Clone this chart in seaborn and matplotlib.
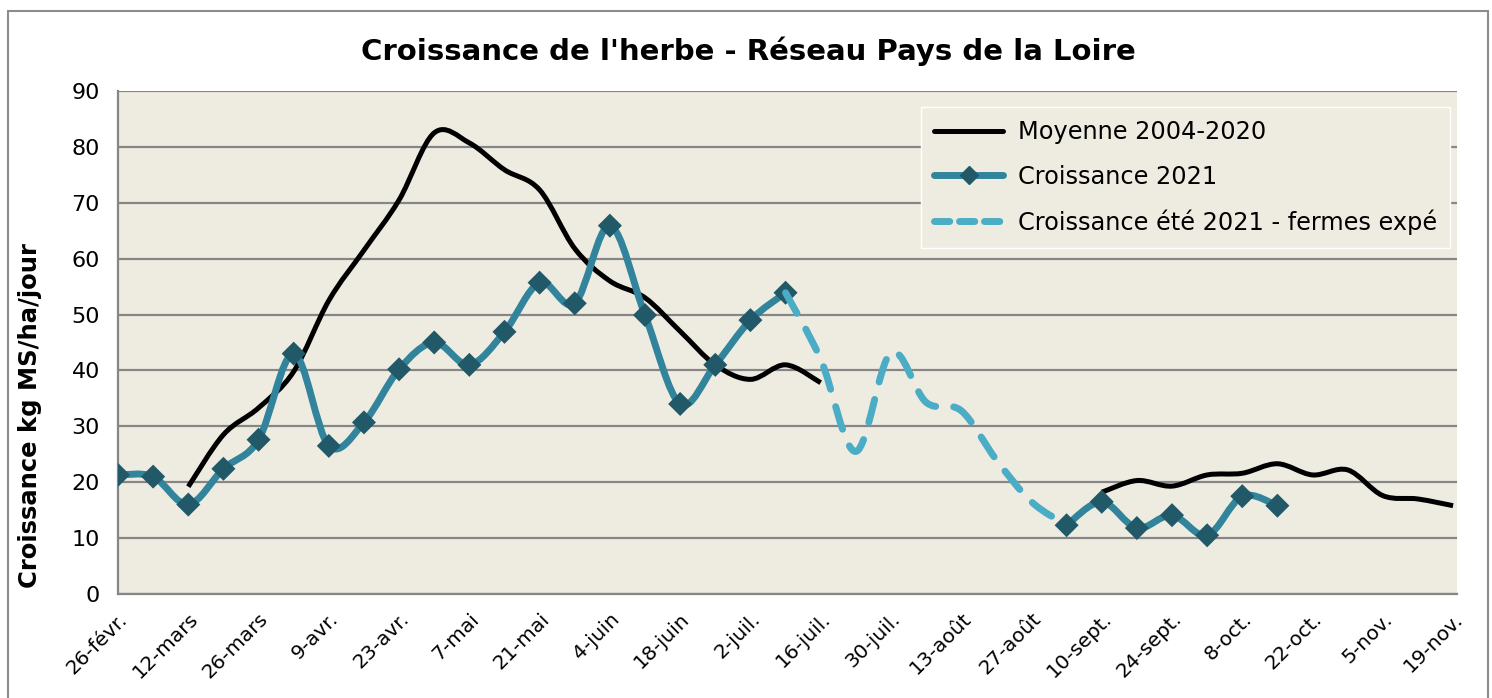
import numpy as np
import pandas as pd
import seaborn as sns
import matplotlib.pyplot as plt
from matplotlib.path import Path
from matplotlib.patches import PathPatch, Rectangle
from matplotlib.lines import Line2D

# semaines du 26-févr. au 19-nov. (index 0..38)
tick_labels = ['26-févr.', '12-mars', '26-mars', '9-avr.', '23-avr.', '7-mai', '21-mai',
               '4-juin', '18-juin', '2-juil.', '16-juil.', '30-juil.', '13-août', '27-août',
               '10-sept.', '24-sept.', '8-oct.', '22-oct.', '5-nov.', '19-nov.']
nan = np.nan
semaine = list(range(39))

moyenne = [nan, nan, 19.2, 28.5, 33.3, 39.8, 52.5, 61.5, 70.5, 82.5, 80.7, 75.9, 72.3,
           61.8, 56.0, 53.0, 47.0, 41.0, 38.4, 41.0, 37.8,
           nan, nan, nan, nan, nan, nan, nan,
           18.2, 20.3, 19.3, 21.3, 21.6, 23.3, 21.3, 22.2, 17.6, 17.0, 15.8]
croissance = [21.3, 21.0, 16.0, 22.4, 27.6, 43.0, 26.5, 30.7, 40.2, 45.0, 41.0, 46.9,
              55.7, 52.0, 65.9, 49.9, 34.0, 41.0, 49.0, 53.9,
              nan, nan, nan, nan, nan, nan, nan,
              12.3, 16.5, 11.8, 14.1, 10.5, 17.5, 15.8,
              nan, nan, nan, nan, nan]
ete = [nan] * 19 + [53.9, 42.0, 25.5, 43.2, 34.3, 32.8, 24.0, 16.5, 12.3] + [nan] * 11

df = pd.DataFrame({'semaine': semaine, 'moyenne': moyenne,
                   'croissance': croissance, 'ete': ete})

c_black = '#000000'
c_teal = '#31849B'
c_mark = '#215968'
c_dash = '#4BACC6'


def smooth_path(x, y):
    # courbe lissée façon Excel (Bezier de type Catmull-Rom)
    pts = np.column_stack([x, y])
    n = len(pts)
    verts = [pts[0]]
    codes = [Path.MOVETO]
    for i in range(n - 1):
        p0 = pts[max(i - 1, 0)]
        p1 = pts[i]
        p2 = pts[i + 1]
        p3 = pts[min(i + 2, n - 1)]
        verts += [p1 + (p2 - p0) / 6, p2 - (p3 - p1) / 6, p2]
        codes += [Path.CURVE4] * 3
    return Path(verts, codes)


def draw_smooth(ax, col, **kw):
    s = df[['semaine', col]].dropna()
    # découpe en segments continus
    grp = (s['semaine'].diff() != 1).cumsum()
    for _, seg in s.groupby(grp):
        if len(seg) < 2:
            continue
        p = smooth_path(seg['semaine'].values.astype(float), seg[col].values)
        ax.add_patch(PathPatch(p, fill=False, transform=ax.transData, **kw))


sns.set_style('white', {'axes.facecolor': '#EEECE1'})
plt.rcParams['font.family'] = ['DejaVu Sans']
plt.rcParams['text.color'] = 'black'
plt.rcParams['xtick.color'] = 'black'
plt.rcParams['ytick.color'] = 'black'
plt.rcParams['axes.labelcolor'] = 'black'

fig = plt.figure(figsize=(14.92, 6.98), dpi=100)
ax = fig.add_axes([0.0791, 0.149, 0.8974, 0.7207])

draw_smooth(ax, 'moyenne', edgecolor=c_black, lw=3.6, capstyle='butt', joinstyle='round', zorder=3)
draw_smooth(ax, 'croissance', edgecolor=c_teal, lw=5, capstyle='butt', joinstyle='round', zorder=4)
sns.scatterplot(data=df, x='semaine', y='croissance', marker='D', s=150, color=c_mark,
                edgecolor='none', linewidth=0, ax=ax, zorder=5, legend=False)
draw_smooth(ax, 'ete', edgecolor=c_dash, lw=5, linestyle=(0, (3.4, 2.6)), capstyle='round',
            joinstyle='round', zorder=6)

ax.set_xlim(0, 38.11)
ax.set_ylim(0, 90)
ax.set_yticks(range(0, 91, 10))
ax.set_xticks(range(0, 39, 2))
ax.set_xticklabels(tick_labels, rotation=45, ha='right', va='top', rotation_mode='anchor')
ax.tick_params(axis='x', labelsize=14.5, length=7, width=1.5, color='#868686', direction='out', pad=4)
ax.tick_params(axis='y', labelsize=16, length=7, width=1.5, color='#868686', direction='out', pad=6)
ax.yaxis.grid(True, color='#868686', lw=1.6)
ax.set_axisbelow(True)
for side in ['top', 'right']:
    ax.spines[side].set_visible(False)
for side in ['left', 'bottom']:
    ax.spines[side].set_color('#868686')
    ax.spines[side].set_linewidth(1.6)

ax.set_xlabel('')
ax.set_ylabel('Croissance kg MS/ha/jour', fontsize=17.5, fontweight='bold')
ax.yaxis.set_label_coords(-0.057, 0.354)
ax.set_title("Croissance de l'herbe - Réseau Pays de la Loire", fontsize=21,
             fontweight='bold', pad=22, x=0.4705)

handles = [
    Line2D([], [], color=c_black, lw=3.6),
    Line2D([], [], color=c_teal, lw=5, marker='D', markersize=9,
           markerfacecolor=c_mark, markeredgecolor=c_mark),
    Line2D([], [], color=c_dash, lw=5, linestyle=(0, (2.2, 1.4)), dash_capstyle='round'),
]
labels = ['Moyenne 2004-2020', 'Croissance 2021', 'Croissance été 2021 - fermes expé']
leg = ax.legend(handles, labels, loc='upper right', bbox_to_anchor=(0.995, 0.968),
                fontsize=17.3, frameon=True, fancybox=False, framealpha=1,
                edgecolor='white', handlelength=2.9, handletextpad=0.6,
                labelspacing=0.85, borderpad=0.55, borderaxespad=0)

fig.patches.append(Rectangle((8 / 1492, -0.01), 1480 / 1492, 1 - 11 / 698 + 0.01,
                             transform=fig.transFigure, fill=False,
                             edgecolor='#8c8c8c', lw=1.5))

fig.savefig('out.png', dpi=100)
